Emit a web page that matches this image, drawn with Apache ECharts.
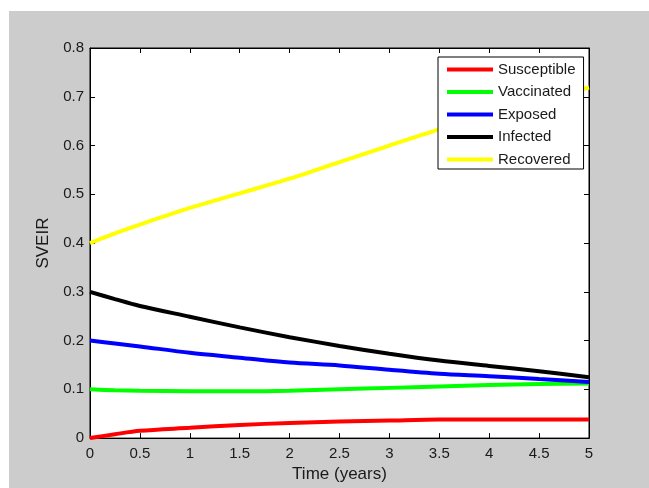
<!DOCTYPE html>
<html>
<head>
<meta charset="utf-8">
<script src="https://cdn.jsdelivr.net/npm/echarts@6/dist/echarts.min.js"></script>
<style>
  html, body { margin: 0; padding: 0; background: #ffffff; }
  #wrap { position: relative; width: 649px; height: 488px; background: #ffffff; overflow: hidden; }
  #bg { position: absolute; left: 9px; top: 11px; width: 640px; height: 477px; background: #cccccc; }
  #chart { position: absolute; left: 0; top: 0; width: 649px; height: 488px; }
</style>
</head>
<body>
<div id="wrap"><div id="bg"></div><div id="chart"></div></div>
<script>
// Data
var time        = [0, 0.25, 0.5, 1, 1.5, 2, 2.5, 3, 3.5, 4, 4.5, 5];
var susceptible = [0, 0.008, 0.015, 0.021, 0.027, 0.031, 0.034, 0.036, 0.038, 0.038, 0.038, 0.038];
var vaccinated  = [0.1, 0.098, 0.097, 0.096, 0.096, 0.097, 0.1, 0.103, 0.106, 0.109, 0.111, 0.112];
var exposed     = [0.2, 0.194, 0.188, 0.175, 0.165, 0.155, 0.149, 0.14, 0.132, 0.127, 0.121, 0.115];
var infected    = [0.3, 0.285, 0.271, 0.249, 0.227, 0.207, 0.189, 0.173, 0.159, 0.148, 0.137, 0.125];
var recovered   = [0.4, 0.42, 0.438, 0.472, 0.502, 0.532, 0.566, 0.6, 0.633, 0.663, 0.692, 0.719];
var seriesNames = ['Susceptible', 'Vaccinated', 'Exposed', 'Infected', 'Recovered'];
var seriesColors = ['#ff0000', '#00ff00', '#0000ff', '#000000', '#ffff00'];
var seriesValues = [susceptible, vaccinated, exposed, infected, recovered];
var xTicks = { min: 0, max: 5, interval: 0.5 };
var yTicks = { min: 0, max: 0.8, interval: 0.1 };
var xTitle = 'Time (years)';
var yTitle = 'SVEIR';

var FONT = "'Liberation Sans', Arial, sans-serif";
var TXT = '#1a1a1a';

function pairs(vals) {
  return time.map(function (t, i) { return [t, vals[i]]; });
}

var chart = echarts.init(document.getElementById('chart'), null, { renderer: 'canvas' });

var axisLine = { show: true, onZero: false, lineStyle: { color: '#000', width: 1 } };
var axisTick = { show: true, inside: true, length: 5, lineStyle: { color: '#000', width: 1 } };

var option = {
  backgroundColor: 'transparent',
  animation: false,
  grid: {
    left: 90, top: 48, width: 499, height: 395,
    show: true, backgroundColor: '#ffffff', borderColor: '#000', borderWidth: 1
  },
  legend: {
    orient: 'vertical',
    left: 438, top: 57,
    padding: [5, 8, 2, 9],
    itemGap: 7.5,
    itemWidth: 46, itemHeight: 4,
    icon: 'rect',
    backgroundColor: '#ffffff',
    borderColor: '#000', borderWidth: 1,
    textStyle: { fontFamily: FONT, fontSize: 15, color: TXT, lineHeight: 14, padding: [0, 0, 0, 0] },
    data: seriesNames
  },
  xAxis: [
    {
      type: 'value', position: 'bottom',
      min: xTicks.min, max: xTicks.max, interval: xTicks.interval,
      axisLine: axisLine, axisTick: axisTick, splitLine: { show: false },
      axisLabel: { margin: 8, fontFamily: FONT, fontSize: 15, color: TXT, showMinLabel: true, showMaxLabel: true },
      name: xTitle, nameLocation: 'middle', nameGap: 26,
      nameTextStyle: { fontFamily: FONT, fontSize: 17, color: TXT }
    },
    {
      type: 'value', position: 'top',
      min: xTicks.min, max: xTicks.max, interval: xTicks.interval,
      axisLine: axisLine, axisTick: axisTick, splitLine: { show: false },
      axisLabel: { show: false }
    }
  ],
  yAxis: [
    {
      type: 'value', position: 'left',
      min: yTicks.min, max: yTicks.max, interval: yTicks.interval,
      axisLine: axisLine, axisTick: axisTick, splitLine: { show: false },
      axisLabel: { margin: 6, fontFamily: FONT, fontSize: 15, color: TXT, showMinLabel: true, showMaxLabel: true },
      name: yTitle, nameLocation: 'middle', nameGap: 36,
      nameTextStyle: { fontFamily: FONT, fontSize: 17, color: TXT }
    },
    {
      type: 'value', position: 'right',
      min: yTicks.min, max: yTicks.max, interval: yTicks.interval,
      axisLine: axisLine, axisTick: axisTick, splitLine: { show: false },
      axisLabel: { show: false }
    }
  ],
  series: seriesNames.map(function (n, i) {
    return {
      name: n, type: 'line', xAxisIndex: 0, yAxisIndex: 0,
      data: pairs(seriesValues[i]),
      showSymbol: false, symbol: 'none', smooth: 0.3,
      itemStyle: { color: seriesColors[i] },
      lineStyle: { color: seriesColors[i], width: 4 },
      z: 2
    };
  })
};
chart.setOption(option);
</script>
</body>
</html>
